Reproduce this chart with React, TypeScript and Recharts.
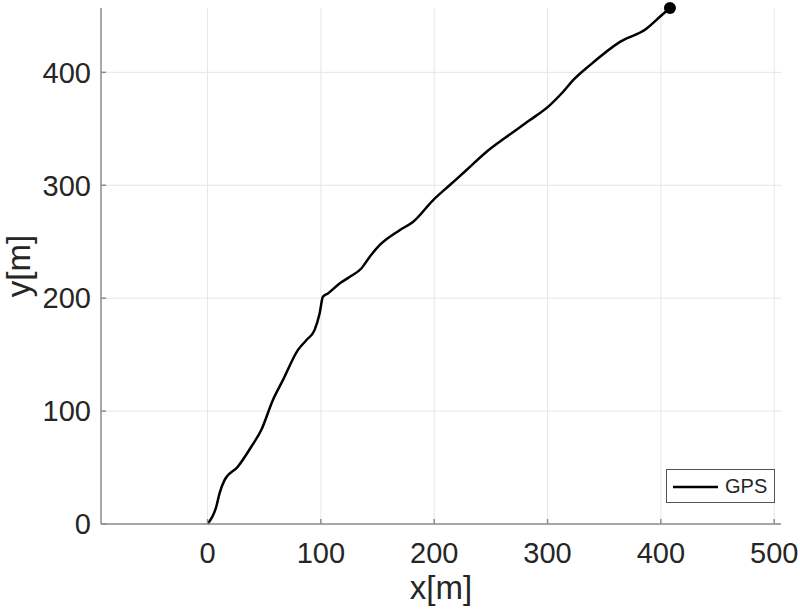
import React from 'react';
import { LineChart, Line, XAxis, YAxis, CartesianGrid } from 'recharts';

const xValues = [0, 7.7, 10.6, 15.0, 26.7, 38.6, 47.4, 57.6, 66.5, 79.7, 87.1, 94.4, 98.9, 101.8, 106.2, 116.5, 125.3, 135.7, 143.0, 151.8, 169.5, 181.2, 198.9, 213.6, 228.3, 246.0, 263.6, 284.2, 301.9, 313.6, 322.4, 337.2, 363.6, 387.2, 400.4, 408];
const yValues = [0, 15.3, 27.2, 38.9, 50.7, 68.4, 83.2, 109.7, 127.4, 154.0, 162.8, 171.7, 186.5, 201.2, 204.2, 213.0, 218.8, 226.3, 236.5, 246.9, 260.2, 267.5, 286.7, 300.0, 313.3, 329.5, 342.7, 357.5, 370.8, 382.6, 392.9, 406.2, 426.8, 438.7, 450.4, 457];
const xTicks = [0, 100, 200, 300, 400, 500];
const yTicks = [0, 100, 200, 300, 400];
const seriesName = 'GPS';

const data = xValues.map((x, i) => ({ x, y: yValues[i] }));
const lastIndex = data.length - 1;

const FONT = '"Liberation Sans", Arial, Helvetica, sans-serif';
const TEXT = '#262626';
const AXIS = '#8c8c8c';

const renderDot = (props: any) => {
  const { cx, cy, index } = props;
  if (index !== lastIndex) return <g key={`d${index}`} />;
  return <circle key={`d${index}`} cx={cx} cy={cy} r={6} fill="#000" stroke="none" />;
};

export default function App() {
  return (
    <div style={{ position: 'absolute', left: 0, top: 0, width: 800, height: 611 }}>
      <LineChart
        width={800}
        height={611}
        data={data}
        margin={{ top: 8, right: 19, bottom: 86, left: 100 }}
      >
        <CartesianGrid
          stroke="#e6e6e6"
          strokeWidth={1}
          horizontalValues={yTicks}
          verticalValues={xTicks}
        />
        <XAxis
          dataKey="x"
          type="number"
          domain={[-94, 506]}
          ticks={xTicks}
          height={1}
          stroke={AXIS}
          strokeWidth={1.5}
          tickSize={-5}
          tickMargin={23}
          tick={{ fill: TEXT, fontSize: 29, fontFamily: FONT }}
          label={{
            content: () => (
              <text x={441} y={599} textAnchor="middle" fill={TEXT} fontSize={33} fontFamily={FONT}>
                x[m]
              </text>
            ),
          }}
        />
        <YAxis
          type="number"
          domain={[0, 457]}
          ticks={yTicks}
          width={1}
          stroke={AXIS}
          strokeWidth={1.5}
          tickSize={-5}
          tickMargin={15}
          tick={{ fill: TEXT, fontSize: 29, fontFamily: FONT }}
          label={{
            content: () => (
              <text
                x={30}
                y={266}
                textAnchor="middle"
                transform="rotate(-90 30 266)"
                fill={TEXT}
                fontSize={33}
                fontFamily={FONT}
              >
                y[m]
              </text>
            ),
          }}
        />
        <Line
          type="monotone"
          dataKey="y"
          name={seriesName}
          stroke="#000"
          strokeWidth={2.5}
          dot={renderDot}
          activeDot={false}
          isAnimationActive={false}
        />
      </LineChart>
      <div
        style={{
          position: 'absolute',
          left: 666,
          top: 469,
          width: 107,
          height: 32,
          border: '1px solid #555',
          background: '#fff',
          display: 'flex',
          alignItems: 'center',
          fontFamily: FONT,
          fontSize: 20,
          color: TEXT,
        }}
      >
        <svg width={58} height={32} style={{ display: 'block' }}>
          <line x1={6} y1={17} x2={51} y2={17} stroke="#000" strokeWidth={2.5} />
        </svg>
        <span>{seriesName}</span>
      </div>
    </div>
  );
}
